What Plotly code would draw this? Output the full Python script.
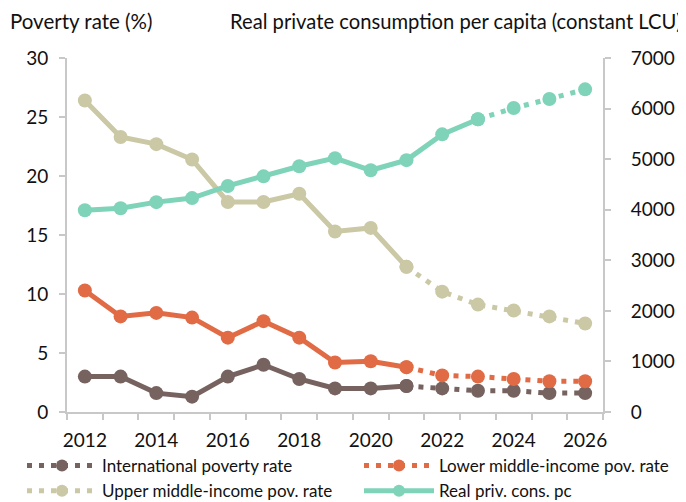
import plotly.graph_objects as go

years = list(range(2012, 2027))
intl_pov = [3.0, 3.0, 1.6, 1.3, 3.0, 4.0, 2.8, 2.0, 2.0, 2.2, 2.0, 1.8, 1.8, 1.6, 1.6]
lmic_pov = [10.3, 8.1, 8.4, 8.0, 6.3, 7.7, 6.3, 4.2, 4.3, 3.8, 3.1, 3.0, 2.8, 2.6, 2.6]
umic_pov = [26.4, 23.3, 22.7, 21.4, 17.8, 17.8, 18.5, 15.3, 15.6, 12.3, 10.2, 9.1, 8.6, 8.1, 7.5]
priv_cons = [3990, 4030, 4150, 4230, 4470, 4660, 4860, 5020, 4780, 4980, 5490, 5790, 6010, 6190, 6380]

last_pov_actual = 2021
last_cons_actual = 2023

C_INTL = "#76625f"
C_LMIC = "#e06b45"
C_UMIC = "#cbc8a6"
C_CONS = "#7ed3b8"

FONT = "Lato"
DOT = "5px,7px"

# page is offset by the default 8px body margin
W, H = 678, 494
ML, MR, MT, MB = 59, 83, 50, 90

fig = go.Figure()


def add_series(name, vals, color, split, yaxis, legend_dash, legend):
    i = years.index(split)
    xa, ya = years[: i + 1], vals[: i + 1]
    xp, yp = years[i:], vals[i:]
    fig.add_trace(go.Scatter(
        x=xa, y=ya, mode="lines+markers", yaxis=yaxis, showlegend=False,
        line=dict(color=color, width=5), marker=dict(color=color, size=14),
        hoverinfo="skip"))
    fig.add_trace(go.Scatter(
        x=xp, y=yp, mode="lines+markers", yaxis=yaxis, showlegend=False,
        line=dict(color=color, width=5, dash=DOT), marker=dict(color=color, size=14),
        hoverinfo="skip"))
    fig.add_trace(go.Scatter(
        x=[None], y=[None], mode="lines+markers", yaxis=yaxis, name=name,
        legend=legend,
        line=dict(color=color, width=5, dash=legend_dash),
        marker=dict(color=color, size=12)))


add_series("International poverty rate", intl_pov, C_INTL, last_pov_actual, "y", DOT, "legend")
add_series("Lower middle-income pov. rate", lmic_pov, C_LMIC, last_pov_actual, "y", DOT, "legend2")
add_series("Upper middle-income pov. rate", umic_pov, C_UMIC, last_pov_actual, "y", DOT, "legend")
add_series("Real priv. cons. pc", priv_cons, C_CONS, last_cons_actual, "y2", "solid", "legend2")

axis_col = "#c8c8c8"
leg_common = dict(
    orientation="v", xanchor="left", yanchor="top",
    xref="container", yref="container", itemwidth=70,
    font=dict(size=17, family=FONT, color="#111111"),
    traceorder="normal", tracegroupgap=0, bgcolor="rgba(0,0,0,0)",
)
fig.update_layout(
    width=W, height=H,
    margin=dict(l=ML, r=MR, t=MT, b=MB, autoexpand=False),
    paper_bgcolor="white", plot_bgcolor="white",
    font=dict(family=FONT, size=19, color="#111111"),
    showlegend=True,
    legend=dict(x=14 / W, y=1 - 440 / H, **leg_common),
    legend2=dict(x=351 / W, y=1 - 440 / H, **leg_common),
    xaxis=dict(
        range=[2011.5, 2026.5], tickvals=list(range(2012, 2027, 2)),
        ticks="", showgrid=False, zeroline=False, ticklabelstandoff=10,
        showline=True, linecolor=axis_col, linewidth=2,
        minor=dict(tickvals=[y + 0.5 for y in range(2011, 2027)], ticks="outside",
                   ticklen=6, tickcolor=axis_col, tickwidth=2, showgrid=False),
        tickfont=dict(size=19), fixedrange=True,
    ),
    yaxis=dict(
        range=[0, 30], dtick=5, ticks="outside", ticklen=6, tickcolor=axis_col,
        tickwidth=2, showgrid=False, zeroline=False, showline=True,
        linecolor=axis_col, linewidth=2, tickfont=dict(size=19),
        ticklabelstandoff=7,
    ),
    yaxis2=dict(
        range=[0, 7000], dtick=1000, overlaying="y", side="right",
        ticks="outside", ticklen=6, tickcolor=axis_col, tickwidth=2,
        showgrid=False, zeroline=False, showline=True, linecolor=axis_col,
        linewidth=2, tickfont=dict(size=19), ticklabelstandoff=16,
    ),
)

plot_w = W - ML - MR
plot_h = H - MT - MB
title_y = 1 + (MT - 13) / plot_h
fig.add_annotation(text="Poverty rate (%)", x=(146 - ML) / plot_w, y=title_y,
                   xref="paper", yref="paper", xanchor="right", yanchor="middle",
                   showarrow=False, font=dict(size=20.5, family=FONT, color="#111111"))
fig.add_annotation(text="Real private consumption per capita (constant LCU)",
                   x=1 + (MR - 2) / plot_w, y=title_y,
                   xref="paper", yref="paper", xanchor="right", yanchor="middle",
                   showarrow=False, font=dict(size=20.2, family=FONT, color="#111111"))

fig.write_html("out.html")
